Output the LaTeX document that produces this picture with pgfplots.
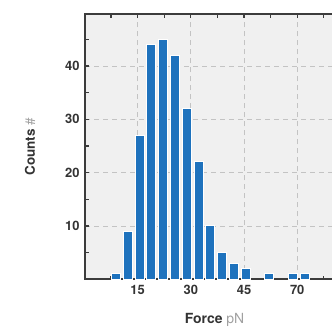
\documentclass[border=0pt]{standalone}
\usepackage{pgfplots}
\pgfplotsset{compat=1.18}
\usepackage{fontspec}
\setmainfont{TeX Gyre Heros}
\definecolor{barblue}{RGB}{30,114,189}
\definecolor{bgcol}{RGB}{240,240,240}
\definecolor{axcol}{RGB}{60,60,60}
\definecolor{txtcol}{RGB}{51,51,51}
\definecolor{unitcol}{RGB}{160,160,160}
\definecolor{gridcol}{RGB}{195,195,195}
\begin{document}
\begin{tikzpicture}
\begin{axis}[
  name=ax,
  set layers,
  scale only axis,
  width=259bp, height=265bp,
  xmin=85, xmax=344, ymin=0, ymax=49.7,
  axis background/.style={fill=bgcol},
  axis line style={draw=axcol, line width=1.6bp, on layer=axis foreground},
  tick style={draw=axcol, line width=1.2bp, on layer=axis foreground},
  tick align=inside,
  major tick length=3.5bp, minor tick length=3.5bp,
  xtick={137.6,190.8,244,297.2},
  xticklabels={15,30,45,70},
  minor xtick={111,164.2,217.4,270.6,323.8},
  ytick={10,20,30,40},
  minor ytick={5,15,25,35,45},
  grid=major,
  major grid style={draw=gridcol, line width=0.8bp, dash pattern=on 5bp off 4bp},
  /pgf/number format/assume math mode=true,
  ticklabel style={font=\fontsize{13}{13}\selectfont\bfseries, text=txtcol},
  xticklabel style={yshift=-2bp},
  yticklabel style={xshift=-2bp},
  xlabel={\textbf{Force} \textcolor{unitcol}{pN}},
  ylabel={\textbf{Counts} \textcolor{unitcol}{\#}},
  every axis x label/.style={at={(axis description cs:0.5,-0.155)}, anchor=center,
    font=\fontsize{14}{14}\selectfont, text=txtcol},
  every axis y label/.style={at={(axis description cs:-0.212,0.5)}, rotate=90, anchor=center,
    font=\fontsize{13.5}{13.5}\selectfont, text=txtcol},
]
\addplot[ybar, bar width=9, fill=barblue, draw=white, line width=1bp] coordinates {
(116,1) (127.8,9) (139.6,27) (151.3,44) (163.1,45) (174.9,42) (186.7,32)
(198.5,22) (210.2,10) (222,5) (233.8,3) (245.6,2) (269.1,1) (292.7,1) (304.5,1)
};
\end{axis}
\pgfresetboundingbox
\path (ax.south west) ++(-85bp,-49.7bp) rectangle ++(332bp,329bp);
\end{tikzpicture}
\end{document}
